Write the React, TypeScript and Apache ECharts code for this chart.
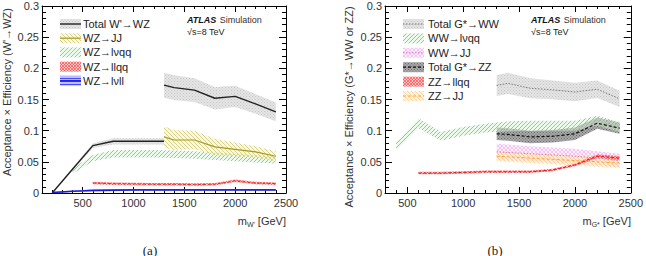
import React, { useEffect, useRef } from 'react';
import * as echarts from 'echarts';

const FONT = '"Liberation Sans", Arial, Helvetica, sans-serif';
const SERIF = '"Liberation Serif", "Times New Roman", serif';

// ---------- tick labels ----------
const xMajorTicks = [500, 1000, 1500, 2000, 2500];

// ---------- panel (a): W' -> WZ ----------
const wzLowMass = [200, 400, 600, 800, 1000, 1200, 1300];
const wzLowTotal = [0.0, 0.038, 0.076, 0.083, 0.083, 0.083, 0.083];
const wzLowTotalErr = [0.0, 0.002, 0.004, 0.005, 0.005, 0.005, 0.005];

const highMass = [1300, 1400, 1600, 1800, 2000, 2200, 2400];
const wzHighTotal = [0.173, 0.169, 0.165, 0.152, 0.155, 0.143, 0.13];
const wzHighTotalErr = [0.02, 0.02, 0.019, 0.018, 0.017, 0.016, 0.015];

const wzJJ = [0.09, 0.085, 0.085, 0.074, 0.07, 0.066, 0.059];
const wzJJErr = [0.017, 0.016, 0.015, 0.013, 0.011, 0.009, 0.008];

const lvqqMass = [400, 600, 800, 1000, 1200, 1400, 1600, 1800, 2000, 2200, 2400];
const wzLvqq = [0.035, 0.056, 0.063, 0.063, 0.063, 0.062, 0.061, 0.059, 0.057, 0.055, 0.053];
const wzLvqqErr = [0.004, 0.005, 0.006, 0.006, 0.006, 0.006, 0.006, 0.006, 0.006, 0.006, 0.006];

const llqqMass = [600, 800, 1000, 1200, 1400, 1600, 1800, 2000, 2200, 2400];
const wzLlqq = [0.016, 0.015, 0.0145, 0.014, 0.014, 0.0135, 0.014, 0.0195, 0.016, 0.015];
const wzLlqqErr = [0.002, 0.002, 0.002, 0.002, 0.002, 0.002, 0.002, 0.002, 0.002, 0.002];

const lvllMass = [200, 400, 600, 800, 1000, 1200, 1400, 1600, 1800, 2000, 2200, 2400];
const wzLvll = [0.001, 0.003, 0.004, 0.0045, 0.005, 0.005, 0.005, 0.005, 0.005, 0.005, 0.005, 0.005];
const wzLvllErr = [0.0008, 0.0012, 0.0015, 0.0015, 0.0015, 0.0015, 0.0015, 0.0015, 0.0015, 0.0015, 0.0015, 0.0015];

// ---------- panel (b): G* -> WW / ZZ ----------
const gTotWW = [0.1725, 0.176, 0.168, 0.1655, 0.162, 0.1665, 0.151];
const gTotWWErr = [0.017, 0.017, 0.016, 0.015, 0.015, 0.014, 0.013];

const wwLvqq = [0.075, 0.112, 0.091, 0.099, 0.104, 0.107, 0.108, 0.108, 0.108, 0.116, 0.106];
const wwLvqqErr = [0.007, 0.008, 0.007, 0.007, 0.007, 0.008, 0.008, 0.008, 0.008, 0.008, 0.008];

const wwJJ = [0.066, 0.065, 0.063, 0.061, 0.059, 0.056, 0.052];
const wwJJErr = [0.013, 0.013, 0.012, 0.012, 0.012, 0.011, 0.011];

const gTotZZ = [0.095, 0.094, 0.09, 0.091, 0.095, 0.112, 0.104];
const gTotZZErr = [0.01, 0.01, 0.01, 0.01, 0.01, 0.009, 0.009];

const zzLlqq = [0.032, 0.032, 0.033, 0.034, 0.034, 0.034, 0.037, 0.045, 0.059, 0.056];
const zzLlqqErr = [0.002, 0.002, 0.002, 0.002, 0.002, 0.002, 0.002, 0.002, 0.003, 0.003];

const zzJJ = [0.059, 0.058, 0.056, 0.054, 0.052, 0.05, 0.048];
const zzJJErr = [0.008, 0.008, 0.008, 0.008, 0.008, 0.008, 0.008];

const legendA = ["Total W'→WZ", 'WZ→JJ', 'WZ→lνqq', 'WZ→llqq', 'WZ→lνll'];
const legendB = ['Total G*→WW', 'WW→lνqq', 'WW→JJ', 'Total G*→ZZ', 'ZZ→llqq', 'ZZ→JJ'];

function makePattern(kind: string, bg: string | null, fg: string, size = 6, lw = 1) {
  const c = document.createElement('canvas');
  c.width = size;
  c.height = size;
  const g = c.getContext('2d')!;
  if (bg) {
    g.fillStyle = bg;
    g.fillRect(0, 0, size, size);
  }
  g.strokeStyle = fg;
  g.fillStyle = fg;
  g.lineWidth = lw;
  const s = size;
  if (kind === 'fwd' || kind === 'cross') {
    for (const o of [-s, 0, s]) {
      g.beginPath();
      g.moveTo(o, s);
      g.lineTo(o + s, 0);
      g.stroke();
    }
  }
  if (kind === 'back' || kind === 'cross') {
    for (const o of [-s, 0, s]) {
      g.beginPath();
      g.moveTo(o, 0);
      g.lineTo(o + s, s);
      g.stroke();
    }
  }
  if (kind === 'horiz') {
    g.fillRect(0, 0, s, 1);
  }
  if (kind === 'dots') {
    g.fillRect(0, 0, 1, 1);
    g.fillRect(s / 2, s / 2, 1, 1);
  }
  return { image: c, repeat: 'repeat' };
}

function band(xIdx: number, yIdx: number, mass: number[], val: number[], err: number[], fill: any, z: number) {
  return {
    type: 'custom',
    xAxisIndex: xIdx,
    yAxisIndex: yIdx,
    z,
    silent: true,
    clip: true,
    data: [[mass[0], val[0]]],
    renderItem: (params: any, api: any) => {
      if (params.dataIndex !== 0) return null;
      const up = mass.map((m, i) => api.coord([m, val[i] + err[i]]));
      const lo = mass.map((m, i) => api.coord([m, Math.max(0, val[i] - err[i])])).reverse();
      return {
        type: 'polygon',
        shape: { points: up.concat(lo) },
        style: { fill, stroke: null },
      };
    },
  };
}

function line(xIdx: number, yIdx: number, mass: number[], val: number[], color: string, width: number, type: any, z = 10) {
  return {
    type: 'line',
    xAxisIndex: xIdx,
    yAxisIndex: yIdx,
    z,
    silent: true,
    symbol: 'none',
    data: mass.map((m, i) => [m, val[i]]),
    lineStyle: { color, width, type },
  };
}

const AX = { color: '#000', width: 1 };

function xAxesFor(gridIndex: number, min: number, max: number) {
  const base = { type: 'value', gridIndex, min, max, splitLine: { show: false } };
  return [
    {
      ...base,
      position: 'bottom',
      interval: 100,
      axisLine: { show: true, onZero: false, lineStyle: AX },
      axisTick: { show: true, inside: true, length: 3, lineStyle: AX },
      axisLabel: {
        show: true,
        formatter: (v: number) => (xMajorTicks.indexOf(v) >= 0 ? String(v) : ''),
        color: '#333',
        fontSize: 11,
        fontFamily: FONT,
        margin: 4,
      },
    },
    {
      ...base,
      position: 'bottom',
      axisLine: { show: false, onZero: false },
      axisTick: { show: true, inside: true, length: 6, lineStyle: AX, customValues: xMajorTicks },
      axisLabel: { show: false },
    },
    {
      ...base,
      position: 'top',
      interval: 100,
      axisLine: { show: true, onZero: false, lineStyle: AX },
      axisTick: { show: true, inside: true, length: 3, lineStyle: AX },
      axisLabel: { show: false },
    },
    {
      ...base,
      position: 'top',
      axisLine: { show: false, onZero: false },
      axisTick: { show: true, inside: true, length: 6, lineStyle: AX, customValues: xMajorTicks },
      axisLabel: { show: false },
    },
  ];
}

function yAxesFor(gridIndex: number) {
  const base = {
    type: 'value',
    gridIndex,
    min: 0,
    max: 0.3,
    interval: 0.05,
    splitLine: { show: false },
    axisLine: { show: true, onZero: false, lineStyle: AX },
    axisTick: { show: true, inside: true, length: 7, lineStyle: AX },
    minorTick: { show: true, splitNumber: 5, length: 4, lineStyle: AX },
    minorSplitLine: { show: false },
  };
  return [
    {
      ...base,
      position: 'left',
      axisLabel: { show: true, color: '#333', fontSize: 11, fontFamily: FONT, margin: 3 },
    },
    { ...base, position: 'right', axisLabel: { show: false } },
  ];
}

export default function App() {
  const ref = useRef<HTMLDivElement>(null);
  useEffect(() => {
    const chart = echarts.init(ref.current!, null, { renderer: 'svg' });

    const pGray = makePattern('dots', 'rgba(224,224,224,0.85)', '#c6c6c6', 3);
    const pDark = makePattern('dots', 'rgba(140,140,140,0.75)', '#6a6a6a', 3);
    const pOlive = makePattern('back', 'rgba(245,242,205,0.5)', '#cfc56a', 4, 0.8);
    const pGreen = makePattern('fwd', 'rgba(215,245,215,0.5)', '#6cd96c', 4, 0.9);
    const pRed = makePattern('cross', 'rgba(255,185,185,0.8)', '#ff4a4a', 3, 0.7);
    const pBlue = makePattern('horiz', 'rgba(175,175,255,0.8)', '#4a4aff', 3, 1);
    const pPink = makePattern('cross', 'rgba(252,225,252,0.45)', '#f2b2f2', 4, 0.7);
    const pOrange = makePattern('back', 'rgba(255,236,205,0.5)', '#ffc87a', 4, 0.7);

    const series: any[] = [
      // panel (a)
      band(0, 0, wzLowMass, wzLowTotal, wzLowTotalErr, pGray, 1),
      band(0, 0, highMass, wzHighTotal, wzHighTotalErr, pGray, 1),
      band(0, 0, lvqqMass, wzLvqq, wzLvqqErr, pGreen, 2),
      band(0, 0, highMass, wzJJ, wzJJErr, pOlive, 3),
      band(0, 0, llqqMass, wzLlqq, wzLlqqErr, pRed, 4),
      band(0, 0, lvllMass, wzLvll, wzLvllErr, pBlue, 4),
      line(0, 0, wzLowMass, wzLowTotal, '#222', 1.4, 'solid'),
      line(0, 0, highMass, wzHighTotal, '#222', 1.4, 'solid'),
      line(0, 0, highMass, wzJJ, '#a89a20', 1.2, 'solid'),
      line(0, 0, llqqMass, wzLlqq, '#e81818', 0.9, [3, 2]),
      line(0, 0, lvllMass, wzLvll, '#1c1cd8', 1.5, 'solid'),
      // panel (b)
      band(4, 2, highMass, gTotWW, gTotWWErr, pGray, 1),
      band(4, 2, highMass, gTotZZ, gTotZZErr, pDark, 2),
      band(4, 2, lvqqMass, wwLvqq, wwLvqqErr, pGreen, 3),
      band(4, 2, highMass, wwJJ, wwJJErr, pPink, 3),
      band(4, 2, highMass, zzJJ, zzJJErr, pOrange, 4),
      band(4, 2, llqqMass, zzLlqq, zzLlqqErr, pRed, 4),
      line(4, 2, highMass, gTotWW, '#777', 1, [1.5, 1.5]),
      line(4, 2, highMass, gTotZZ, '#111', 1.2, [3, 2]),
      line(4, 2, highMass, wwJJ, '#d070d0', 0.9, [1.5, 1.5]),
      line(4, 2, highMass, zzJJ, '#ff9a20', 0.9, [3, 2]),
      line(4, 2, llqqMass, zzLlqq, '#d81010', 1, [3, 2]),
    ];

    const legendPatterns = {
      a: [
        { p: pGray, c: '#222', d: null, w: 1.4 },
        { p: pOlive, c: '#a89a20', d: null, w: 1.2 },
        { p: pGreen, c: null, d: null, w: 0 },
        { p: pRed, c: null, d: null, w: 0 },
        { p: pBlue, c: '#1c1cd8', d: null, w: 1.5 },
      ],
      b: [
        { p: pGray, c: '#777', d: [1.5, 1.5], w: 1 },
        { p: pGreen, c: null, d: null, w: 0 },
        { p: pPink, c: '#d070d0', d: [1.5, 1.5], w: 0.9 },
        { p: pDark, c: '#111', d: [3, 2], w: 1.2 },
        { p: pRed, c: null, d: null, w: 0 },
        { p: pOrange, c: '#ff9a20', d: [3, 2], w: 0.9 },
      ],
    };

    const graphics: any[] = [];
    const addLegend = (labels: string[], items: any[], bx: number, tx: number, y0: number, step: number) => {
      labels.forEach((lab, i) => {
        const y = y0 + i * step;
        const it = items[i];
        graphics.push({ type: 'rect', shape: { x: bx, y: y - 5, width: 21, height: 10 }, style: { fill: it.p } });
        if (it.c) {
          graphics.push({
            type: 'line',
            shape: { x1: bx, y1: y, x2: bx + 21, y2: y },
            style: { stroke: it.c, lineWidth: it.w, lineDash: it.d || null },
          });
        }
        graphics.push({
          type: 'text',
          x: tx,
          y,
          style: { text: lab, font: `11px ${FONT}`, fill: '#222', align: 'left', verticalAlign: 'middle' },
        });
      });
    };
    addLegend(legendA, legendPatterns.a, 60, 83, 24, 14.2);
    addLegend(legendB, legendPatterns.b, 403, 428, 24, 14.4);

    const atlas = (x: number) => [
      {
        type: 'text',
        x,
        y: 20,
        style: {
          text: '{b|ATLAS} {n|Simulation}',
          align: 'left',
          verticalAlign: 'middle',
          rich: {
            b: { fontFamily: FONT, fontSize: 9, fontWeight: 'bold', fontStyle: 'italic', fill: '#111' },
            n: { fontFamily: FONT, fontSize: 9, fill: '#333' },
          },
        },
      },
      {
        type: 'text',
        x,
        y: 32,
        style: { text: '√s=8 TeV', font: `9px ${FONT}`, fill: '#222', align: 'left', verticalAlign: 'middle' },
      },
    ];
    graphics.push(...atlas(187), ...atlas(531));

    graphics.push({
      type: 'text',
      x: 7,
      y: 92,
      rotation: Math.PI / 2,
      style: {
        text: "Acceptance × Efficiency (W'→WZ)",
        font: `11px ${FONT}`,
        fill: '#333',
        align: 'center',
        verticalAlign: 'middle',
      },
    });
    graphics.push({
      type: 'text',
      x: 349,
      y: 107,
      rotation: Math.PI / 2,
      style: {
        text: 'Acceptance × Efficiency (G*→WW or ZZ)',
        font: `11px ${FONT}`,
        fill: '#333',
        align: 'center',
        verticalAlign: 'middle',
      },
    });

    const xName = (x: number, sub: string) => ({
      type: 'text',
      x,
      y: 221,
      style: {
        text: `{a|m}{s|${sub}}{a| [GeV]}`,
        align: 'right',
        verticalAlign: 'middle',
        rich: {
          a: { fontFamily: FONT, fontSize: 11, fill: '#333', lineHeight: 14, verticalAlign: 'middle' },
          s: { fontFamily: FONT, fontSize: 7, fill: '#333', lineHeight: 14, verticalAlign: 'bottom', padding: [5, 0, 0, 0] },
        },
      },
    });
    graphics.push(xName(286, "W'"), xName(631, 'G*'));

    graphics.push(
      {
        type: 'text',
        x: 150,
        y: 250,
        style: { text: '(a)', font: `13px ${SERIF}`, fill: '#222', align: 'center', verticalAlign: 'middle' },
      },
      {
        type: 'text',
        x: 495,
        y: 250,
        style: { text: '(b)', font: `13px ${SERIF}`, fill: '#222', align: 'center', verticalAlign: 'middle' },
      }
    );

    const option: any = {
      animation: false,
      backgroundColor: '#fff',
      grid: [
        { left: 42, top: 6, width: 244, height: 187 },
        { left: 385, top: 6, width: 246, height: 187 },
      ],
      xAxis: [...xAxesFor(0, 100, 2500), ...xAxesFor(1, 300, 2500)],
      yAxis: [...yAxesFor(0), ...yAxesFor(1)],
      series,
      graphic: graphics,
    };
    chart.setOption(option);
    return () => chart.dispose();
  }, []);
  return <div ref={ref} style={{ position: 'absolute', left: 0, top: 0, width: 646, height: 256 }} />;
}
